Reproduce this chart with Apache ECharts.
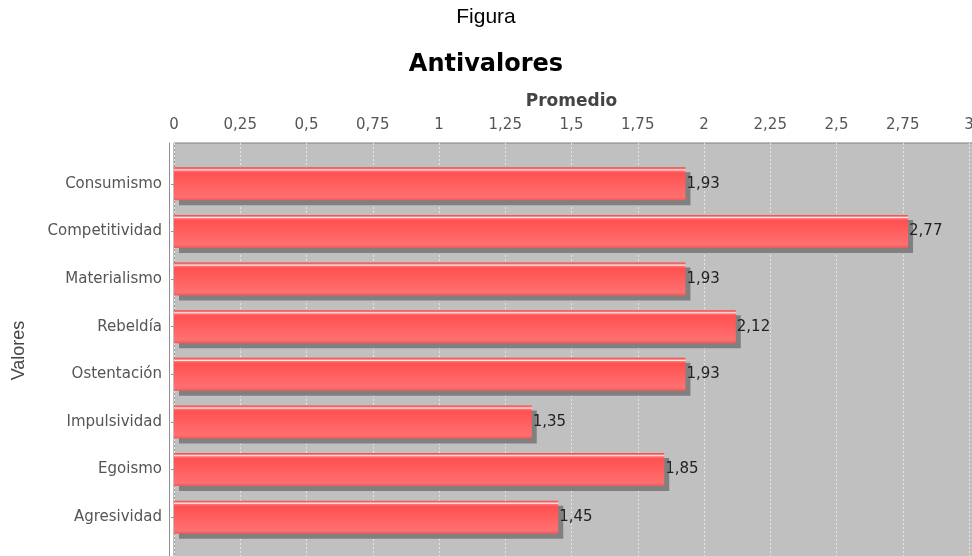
<!DOCTYPE html>
<html>
<head>
<meta charset="utf-8">
<script src="https://cdn.jsdelivr.net/npm/echarts@6/dist/echarts.min.js"></script>
<style>html,body{margin:0;padding:0;background:#fff}#c{width:972px;height:556px}</style>
</head>
<body>
<div id="c"></div>
<script>
const categories = ['Consumismo','Competitividad','Materialismo','Rebeldía','Ostentación','Impulsividad','Egoismo','Agresividad'];
const values = [1.93, 2.77, 1.93, 2.12, 1.93, 1.35, 1.85, 1.45];
const xMin = 0, xMax = 3, xStep = 0.25;
const supTitle = 'Figura';
const mainTitle = 'Antivalores';
const xName = 'Promedio';
const yName = 'Valores';

const fmt = v => String(v).replace('.', ',');
const chart = echarts.init(document.getElementById('c'));
const F = 'DejaVu Sans';
chart.setOption({
  animation: false,
  title: [
    {text: supTitle, left: 'center', top: 2, textStyle: {fontFamily: 'Liberation Sans', fontSize: 21, fontWeight: 'normal', color: '#000'}},
    {text: mainTitle, left: 'center', top: 48, textStyle: {fontFamily: F, fontSize: 24, fontWeight: 'bold', color: '#000'}}
  ],
  grid: [
    {left: 174, right: 3, top: 160, bottom: 15, show: false, containLabel: false, outerBoundsMode: 'none'},
    {left: 174, right: -20, top: 143, bottom: -20, show: true, backgroundColor: '#c0c0c0', borderColor: '#7f7f7f', borderWidth: 1, containLabel: false, outerBoundsMode: 'none'},
    {left: 174, right: 3, top: 143, bottom: -20, show: false, containLabel: false, outerBoundsMode: 'none'}
  ],
  xAxis: [
    {gridIndex: 0, type: 'value', min: xMin, max: xMax, interval: xStep, show: false},
    {gridIndex: 1, type: 'value', show: false},
    {gridIndex: 2, type: 'value', min: xMin, max: xMax, interval: xStep, position: 'top', offset: 5,
     name: xName, nameLocation: 'middle', nameGap: 28,
     nameTextStyle: {fontFamily: F, fontSize: 17, fontWeight: 'bold', color: '#444'},
     axisLine: {show: true, lineStyle: {color: '#999', width: 1}},
     axisTick: {show: true, length: 3, lineStyle: {color: '#999'}},
     axisLabel: {formatter: fmt, fontFamily: F, fontSize: 15, color: '#555', margin: 5},
     splitLine: {show: true, lineStyle: {color: '#e4e4e4', type: [2, 2], width: 1}}}
  ],
  yAxis: [
    {gridIndex: 0, type: 'category', data: categories, inverse: true, offset: 5,
     name: yName, nameLocation: 'middle', nameGap: 141, nameRotate: 90,
     nameTextStyle: {fontFamily: 'Liberation Sans', fontSize: 18, color: '#444'},
     axisLine: {show: false},
     axisTick: {show: true, alignWithLabel: true, length: 3, lineStyle: {color: '#999'}},
     axisLabel: {fontFamily: F, fontSize: 15, color: '#555', margin: 7}},
    {gridIndex: 1, type: 'value', show: false},
    {gridIndex: 2, type: 'value', min: 0, max: 1, offset: 5, show: true,
     axisLine: {show: true, onZero: false, lineStyle: {color: '#909090', width: 1}},
     axisTick: {show: false}, axisLabel: {show: false}, splitLine: {show: false}}
  ],
  series: [{
    type: 'bar', xAxisIndex: 0, yAxisIndex: 0, data: values, barWidth: 33, z: 5,
    itemStyle: {
      color: new echarts.graphic.LinearGradient(0, 0, 0, 1, [
        {offset: 0, color: '#e84848'},
        {offset: 0.04, color: '#ff6a6a'},
        {offset: 0.08, color: '#fff0f0'},
        {offset: 0.11, color: '#ff7474'},
        {offset: 0.17, color: '#ff5050'},
        {offset: 0.9, color: '#ff7070'},
        {offset: 1, color: '#f05858'}
      ]),
      shadowColor: '#808080', shadowBlur: 0, shadowOffsetX: 5, shadowOffsetY: 5
    },
    label: {show: true, position: 'right', distance: 1, formatter: p => fmt(p.value),
      fontFamily: F, fontSize: 15, color: '#222'}
  }]
});
</script>
</body>
</html>
